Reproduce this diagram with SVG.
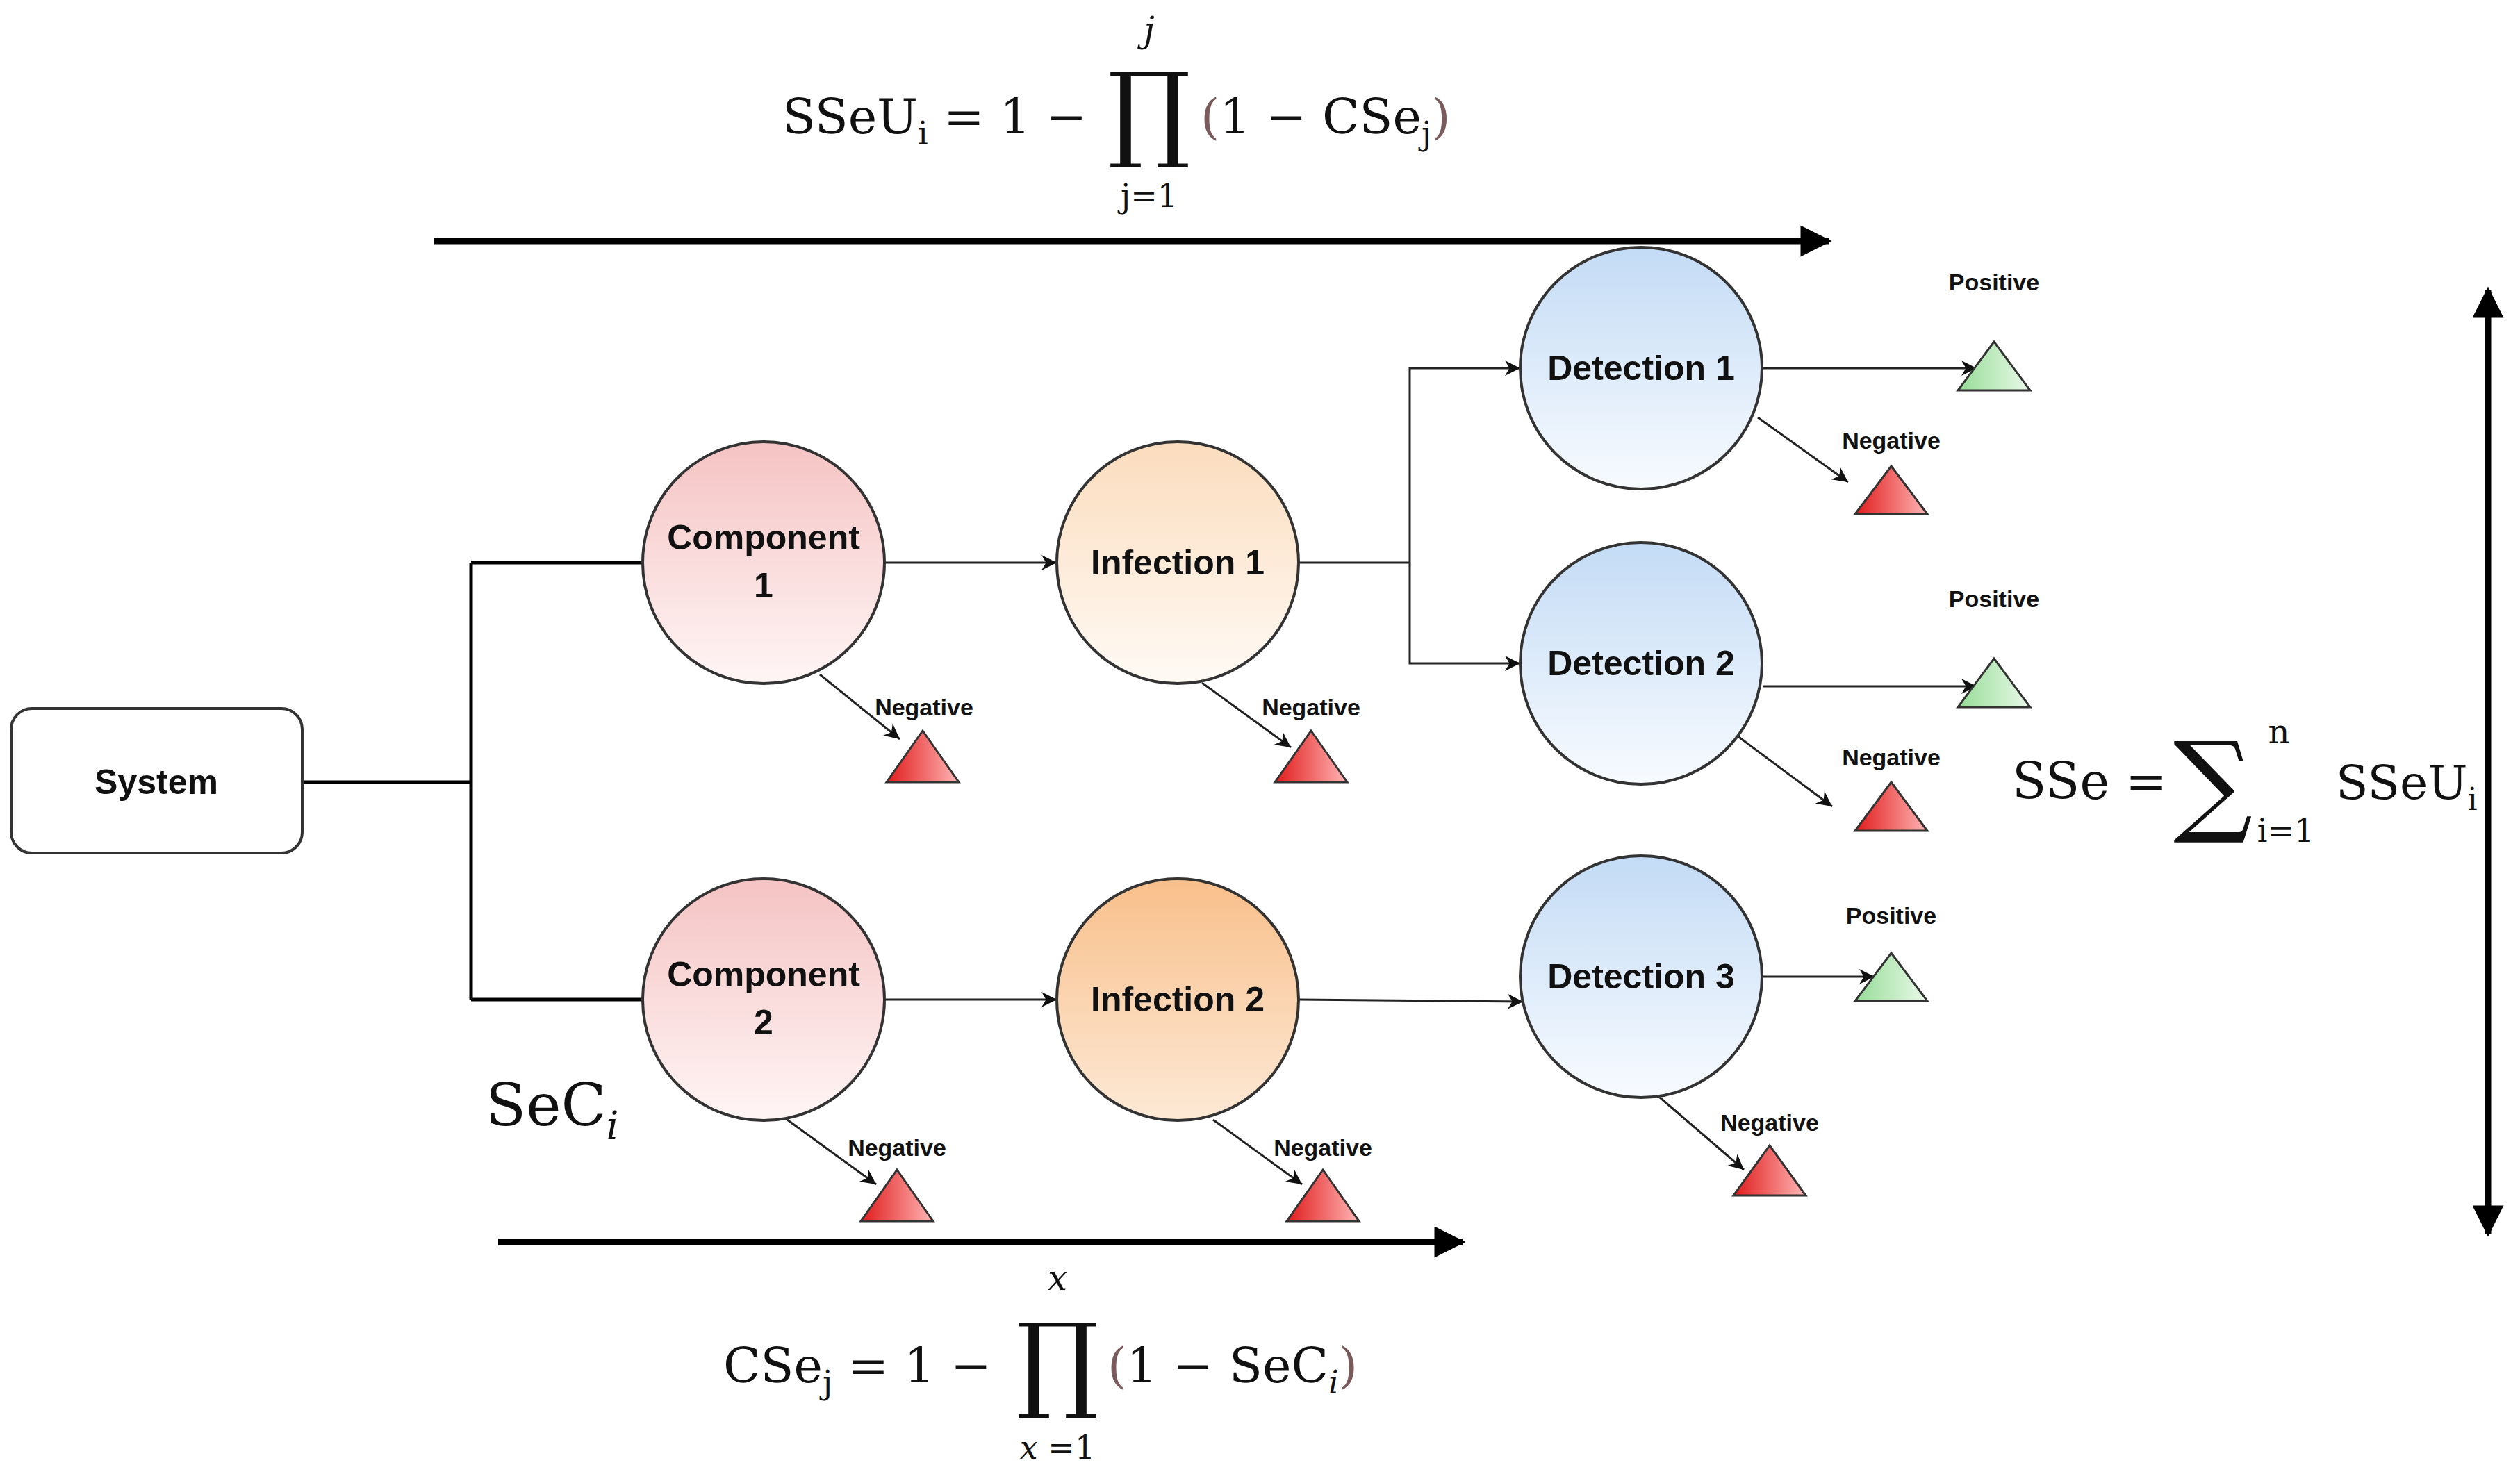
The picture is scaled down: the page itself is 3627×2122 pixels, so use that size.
<svg xmlns="http://www.w3.org/2000/svg" width="3627" height="2122" viewBox="0 0 3627 2122">
<style>
.n{stroke:#333;stroke-width:4}
.t{font-family:"Liberation Sans",Arial,sans-serif;font-weight:bold;font-size:50px;text-anchor:middle;fill:#111}
.l{font-family:"Liberation Sans",Arial,sans-serif;font-weight:bold;font-size:34px;text-anchor:middle;fill:#111}
.m{font-family:"DejaVu Serif","Liberation Serif",serif;fill:#111}
.c{stroke:#222;stroke-width:3;fill:none;marker-end:url(#a)}
.b{stroke:#000;stroke-width:5;fill:none}
.big{stroke:#000;stroke-width:9;fill:none}
.tri{stroke:#333;stroke-width:3}
</style>
<defs>
<linearGradient id="gc" x1="0" y1="0" x2="0" y2="1"><stop offset="0" stop-color="#f5c3c3"/><stop offset="1" stop-color="#fff5f5"/></linearGradient>
<linearGradient id="gi1" x1="0" y1="0" x2="0" y2="1"><stop offset="0" stop-color="#fbdcbd"/><stop offset="1" stop-color="#fffaf5"/></linearGradient>
<linearGradient id="gi2" x1="0" y1="0" x2="0" y2="1"><stop offset="0" stop-color="#f8bf8a"/><stop offset="1" stop-color="#fde9d6"/></linearGradient>
<linearGradient id="gd" x1="0" y1="0" x2="0" y2="1"><stop offset="0" stop-color="#c3dbf5"/><stop offset="1" stop-color="#f8fbff"/></linearGradient>
<linearGradient id="gr" x1="0" y1="0" x2="1" y2="0"><stop offset="0" stop-color="#e01b1b"/><stop offset="1" stop-color="#ffb5b5"/></linearGradient>
<linearGradient id="gg" x1="0" y1="0" x2="1" y2="0"><stop offset="0" stop-color="#96dc96"/><stop offset="1" stop-color="#eaf9ea"/></linearGradient>
<marker id="a" viewBox="0 0 10 10" refX="10" refY="5" markerWidth="26" markerHeight="22" markerUnits="userSpaceOnUse" orient="auto"><path d="M0,0L10,5L0,10L3,5z" fill="#111"/></marker>
<marker id="A" viewBox="0 0 10 10" refX="9" refY="5" markerWidth="6" markerHeight="5" orient="auto-start-reverse"><path d="M0,0L10,5L0,10z" fill="#000"/></marker>
</defs>
<rect width="3627" height="2122" fill="#fff"/>

<g id="connectors">
<path class="b" d="M435,1126H678M678,810V1439M678,810H925M678,1439H925"/>
<path class="c" d="M1273,810H1521"/>
<path class="c" d="M1273,1439H1521"/>
<path class="c" d="M1869,810H2029V530H2188"/>
<path class="c" d="M2029,810V955H2188"/>
<path class="c" d="M1869,1439L2192,1442"/>
<path class="c" d="M2536,530H2845"/>
<path class="c" d="M2530,601L2660,694"/>
<path class="c" d="M2537,988H2845"/>
<path class="c" d="M2500,1059L2637,1161"/>
<path class="c" d="M2537,1406H2698"/>
<path class="c" d="M2389,1580L2510,1684"/>
<path class="c" d="M1180,971L1295,1064"/>
<path class="c" d="M1730,983L1858,1076"/>
<path class="c" d="M1133,1612L1261,1705"/>
<path class="c" d="M1746,1612L1874,1705"/>
<path class="big" d="M625,347H2632" marker-end="url(#A)"/>
<path class="big" d="M717,1788H2105" marker-end="url(#A)"/>
<path class="big" d="M3581,417V1776" marker-start="url(#A)" marker-end="url(#A)"/>
</g>

<g id="system"><rect x="16" y="1020" width="419" height="208" rx="30" fill="#fff" class="n" stroke-width="3"/><text class="t" x="225" y="1143">System</text></g>
<g id="component1"><circle cx="1099" cy="810" r="174" fill="url(#gc)" class="n"/><text class="t" x="1099" y="791">Component</text><text class="t" x="1099" y="860">1</text></g>
<g id="component2"><circle cx="1099" cy="1439" r="174" fill="url(#gc)" class="n"/><text class="t" x="1099" y="1420">Component</text><text class="t" x="1099" y="1489">2</text></g>
<g id="infection1"><circle cx="1695" cy="810" r="174" fill="url(#gi1)" class="n"/><text class="t" x="1695" y="827">Infection 1</text></g>
<g id="infection2"><circle cx="1695" cy="1439" r="174" fill="url(#gi2)" class="n"/><text class="t" x="1695" y="1456">Infection 2</text></g>
<g id="detection1"><circle cx="2362" cy="530" r="174" fill="url(#gd)" class="n"/><text class="t" x="2362" y="547">Detection 1</text></g>
<g id="detection2"><circle cx="2362" cy="955" r="174" fill="url(#gd)" class="n"/><text class="t" x="2362" y="972">Detection 2</text></g>
<g id="detection3"><circle cx="2362" cy="1406" r="174" fill="url(#gd)" class="n"/><text class="t" x="2362" y="1423">Detection 3</text></g>

<g id="pos1"><text class="l" x="2870" y="418">Positive</text><path class="tri" fill="url(#gg)" d="M2870,492L2922,562H2818z"/></g>
<g id="neg1"><text class="l" x="2722" y="646">Negative</text><path class="tri" fill="url(#gr)" d="M2722,671L2774,740H2670z"/></g>
<g id="pos2"><text class="l" x="2870" y="874">Positive</text><path class="tri" fill="url(#gg)" d="M2870,948L2922,1018H2818z"/></g>
<g id="neg2"><text class="l" x="2722" y="1102">Negative</text><path class="tri" fill="url(#gr)" d="M2722,1126L2774,1196H2670z"/></g>
<g id="pos3"><text class="l" x="2722" y="1330">Positive</text><path class="tri" fill="url(#gg)" d="M2722,1372L2774,1441H2670z"/></g>
<g id="neg3"><text class="l" x="2547" y="1628">Negative</text><path class="tri" fill="url(#gr)" d="M2547,1649L2599,1721H2495z"/></g>
<g id="negc1"><text class="l" x="1330" y="1030">Negative</text><path class="tri" fill="url(#gr)" d="M1328,1052L1380,1126H1276z"/></g>
<g id="negi1"><text class="l" x="1887" y="1030">Negative</text><path class="tri" fill="url(#gr)" d="M1887,1052L1939,1126H1835z"/></g>
<g id="negc2"><text class="l" x="1291" y="1664">Negative</text><path class="tri" fill="url(#gr)" d="M1291,1684L1343,1758H1239z"/></g>
<g id="negi2"><text class="l" x="1904" y="1664">Negative</text><path class="tri" fill="url(#gr)" d="M1904,1684L1956,1758H1852z"/></g>

<g id="formula-top" class="m">
<text x="1126" y="192" font-size="70">SSeU<tspan font-size="46" dy="16">i</tspan><tspan dy="-16"> = 1 −</tspan></text>
<text x="1654" y="212" font-size="150" text-anchor="middle">∏</text>
<text x="1654" y="60" font-size="50" font-style="italic" text-anchor="middle">j</text>
<text x="1654" y="298" font-size="46" text-anchor="middle">j=1</text>
<text x="1728" y="192" font-size="70"><tspan fill="#7a5a5a">(</tspan>1 − CSe<tspan font-size="46" dy="16">j</tspan><tspan dy="-16" fill="#7a5a5a">)</tspan></text>
</g>
<g id="formula-bottom" class="m">
<text x="1041" y="1990" font-size="70">CSe<tspan font-size="46" dy="16">j</tspan><tspan dy="-16"> = 1 −</tspan></text>
<text x="1522" y="2012" font-size="150" text-anchor="middle">∏</text>
<text x="1522" y="1857" font-size="50" font-style="italic" text-anchor="middle">x</text>
<text x="1522" y="2100" font-size="46" text-anchor="middle"><tspan font-style="italic">x</tspan> =1</text>
<text x="1594" y="1990" font-size="70"><tspan fill="#7a5a5a">(</tspan>1 − SeC<tspan font-size="46" dy="16" font-style="italic">i</tspan><tspan dy="-16" fill="#7a5a5a">)</tspan></text>
</g>
<g id="sec" class="m"><text x="699" y="1620" font-size="85">SeC<tspan font-size="56" dy="20" font-style="italic">i</tspan></text></g>
<g id="formula-right" class="m">
<text x="2896" y="1150" font-size="72">SSe =</text>
<text x="3128" y="1182" font-size="160">∑</text>
<text x="3280" y="1070" font-size="48" text-anchor="middle">n</text>
<text x="3290" y="1212" font-size="46" text-anchor="middle">i=1</text>
<text x="3362" y="1150" font-size="68">SSeU<tspan font-size="44" dy="16">i</tspan></text>
</g>
</svg>
